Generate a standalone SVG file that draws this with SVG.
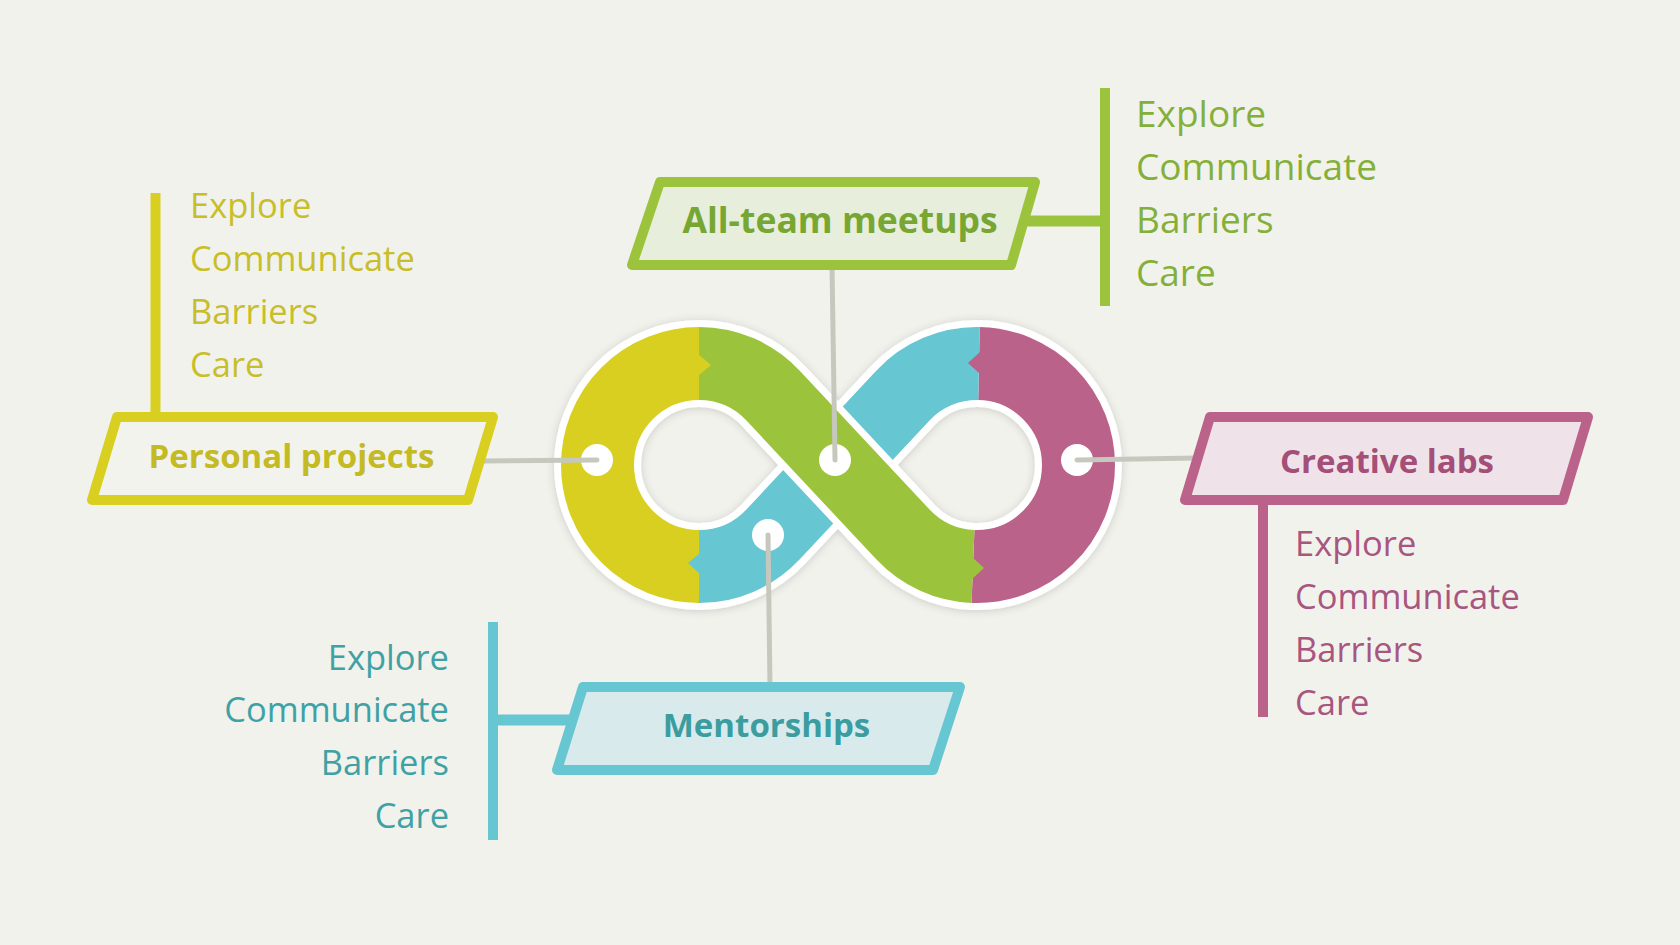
<svg xmlns="http://www.w3.org/2000/svg" width="1680" height="945" viewBox="0 0 1680 945">
  <defs>
    <filter id="shadow" filterUnits="userSpaceOnUse" x="480" y="260" width="720" height="410">
      <feDropShadow dx="0" dy="1" stdDeviation="4" flood-color="#000" flood-opacity="0.16"/>
    </filter>
    <style>
      .bg { fill: #f2f2ed; }
      .band { fill: none; stroke-width: 73; stroke-linecap: butt; stroke-linejoin: round; }
      .edge { fill: none; stroke: #ffffff; stroke-width: 87; stroke-linejoin: round; }
      .node { stroke-width: 10; stroke-linejoin: round; }
      .title { font-family: "Open Sans", "Noto Sans", sans-serif; font-weight: 700; font-size: 33px; text-anchor: middle; }
      .item { font-family: "Open Sans", "Noto Sans", sans-serif; font-weight: 400; font-size: 34.5px; }
      .big { font-size: 37px; }
      .grey { stroke: #c6c8bd; stroke-width: 5; stroke-linecap: round; fill: none; }
      .dot { fill: #ffffff; }
      .yel { stroke: #d9cf20; }
      .grn { stroke: #9bc33c; }
      .cyn { stroke: #66c6d1; }
      .mag { stroke: #bb628b; }
    </style>
  </defs>
  <rect class="bg" x="0" y="0" width="1680" height="945"/>

  <!-- Infinity loop -->
  <g id="infinity">
    <path class="edge" filter="url(#shadow)" d="M 699 363.5 A 101.5 101.5 0 0 1 773.1 395.6 L 902.9 534.4 A 101.5 101.5 0 0 0 973 566.42 A 101.5 101.5 0 0 0 1078.5 465 A 101.5 101.5 0 0 0 979 363.52 A 101.5 101.5 0 0 0 902.9 395.6 L 773.1 534.4 A 101.5 101.5 0 0 1 699 566.5 A 101.5 101.5 0 0 1 597.5 465 A 101.5 101.5 0 0 1 699 363.5 Z"/>
    <path class="band yel" d="M 699 566.5 A 101.5 101.5 0 0 1 597.5 465 A 101.5 101.5 0 0 1 699 363.5"/>
    <path class="band mag" d="M 973 566.42 A 101.5 101.5 0 0 0 1078.5 465 A 101.5 101.5 0 0 0 979 363.52"/>
    <path class="band cyn" d="M 979 363.52 A 101.5 101.5 0 0 0 902.9 395.6 L 773.1 534.4 A 101.5 101.5 0 0 1 699 566.5"/>
    <path class="edge" d="M 773.1 395.6 L 902.9 534.4"/>
    <path class="band grn" d="M 699 363.5 A 101.5 101.5 0 0 1 773.1 395.6 L 902.9 534.4 A 101.5 101.5 0 0 0 973 566.42"/>
    <polygon fill="#d9cf20" points="698,354 711,365 698,376"/>
    <polygon fill="#66c6d1" points="700,553 688,563 700,574"/>
    <polygon fill="#bb628b" points="980,352 968,363 980,374"/>
    <polygon fill="#9bc33c" points="972,557 984,568 972,579"/>
    <circle class="dot" cx="597" cy="460" r="16"/>
    <circle class="dot" cx="835" cy="460" r="16"/>
    <circle class="dot" cx="768" cy="535" r="16"/>
    <circle class="dot" cx="1077" cy="460" r="16"/>
  </g>

  <!-- Connectors -->
  <g id="connectors">
    <line class="grey" x1="480" y1="461" x2="597" y2="460"/>
    <line class="grey" x1="832" y1="265" x2="835" y2="460"/>
    <line class="grey" x1="770" y1="687" x2="768" y2="535"/>
    <line class="grey" x1="1197" y1="458" x2="1077" y2="460"/>
    <line stroke="#d9cf20" stroke-width="10" x1="155.5" y1="193" x2="155.5" y2="417"/>
    <line stroke="#9bc33c" stroke-width="11" x1="1020" y1="221" x2="1105" y2="221"/>
    <line stroke="#9bc33c" stroke-width="10" x1="1105" y1="88" x2="1105" y2="306"/>
    <line stroke="#bb628b" stroke-width="10" x1="1263" y1="500" x2="1263" y2="717"/>
    <line stroke="#66c6d1" stroke-width="10" x1="493" y1="622" x2="493" y2="840"/>
    <line stroke="#66c6d1" stroke-width="11" x1="493" y1="720" x2="575" y2="720"/>
  </g>

  <g id="node-personal">
    <polygon class="node" fill="#f3f3ee" stroke="#d9cf20" points="117,417 493,417 468,500 92,500"/>
    <text class="title" fill="#c4ba24" x="291.5" y="468">Personal projects</text>
    <g class="item" fill="#c8be2a">
      <text x="190" y="218">Explore</text>
      <text x="190" y="271">Communicate</text>
      <text x="190" y="324">Barriers</text>
      <text x="190" y="377">Care</text>
    </g>
  </g>

  <g id="node-allteam">
    <polygon class="node" fill="#e7eedc" stroke="#9bc33c" points="660,182 1035,182 1011,265 632,265"/>
    <text class="title" fill="#77a632" x="840" y="233" style="font-size:35.5px">All-team meetups</text>
    <g class="item big" fill="#84b03a">
      <text x="1136" y="127">Explore</text>
      <text x="1136" y="180">Communicate</text>
      <text x="1136" y="233">Barriers</text>
      <text x="1136" y="286">Care</text>
    </g>
  </g>

  <g id="node-creative">
    <polygon class="node" fill="#efe3e9" stroke="#bb628b" points="1210,417 1588,417 1563,500 1185,500"/>
    <text class="title" fill="#a44e78" x="1387" y="473">Creative labs</text>
    <g class="item" fill="#a8567f">
      <text x="1295" y="556">Explore</text>
      <text x="1295" y="609">Communicate</text>
      <text x="1295" y="662">Barriers</text>
      <text x="1295" y="715">Care</text>
    </g>
  </g>

  <g id="node-mentorships">
    <polygon class="node" fill="#d8eaec" stroke="#66c6d1" points="583,687 960,687 933,770 557,770"/>
    <text class="title" fill="#3b9d9f" x="766.5" y="737">Mentorships</text>
    <g class="item" fill="#40a1a4" text-anchor="end">
      <text x="449" y="670">Explore</text>
      <text x="449" y="722">Communicate</text>
      <text x="449" y="775">Barriers</text>
      <text x="449" y="828">Care</text>
    </g>
  </g>
</svg>
